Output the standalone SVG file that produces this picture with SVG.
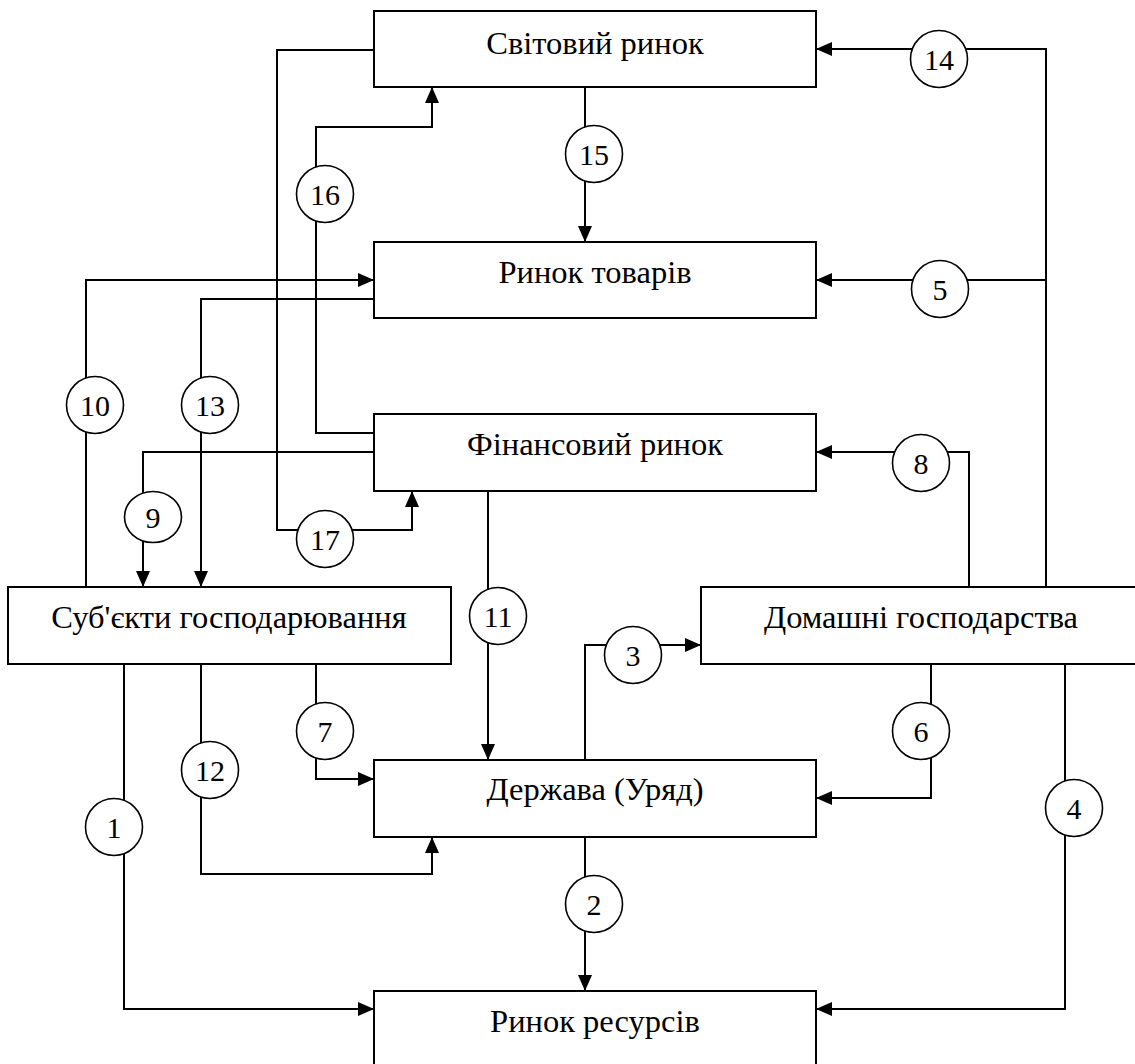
<svg xmlns="http://www.w3.org/2000/svg" width="1135" height="1064" viewBox="0 0 1135 1064">
<style>
.box{fill:#fff;stroke:#000;stroke-width:2}
.lbl{font-family:'Liberation Serif','Times New Roman',serif;font-size:32.5px;fill:#000;text-anchor:middle}
.ln{fill:none;stroke:#000;stroke-width:2}
.arr{marker-end:url(#ah)}
.c{fill:#fff;stroke:#000;stroke-width:1.6}
.num{font-family:'Liberation Serif','Times New Roman',serif;font-size:30px;fill:#000;text-anchor:middle}
</style>
<defs>
<marker id="ah" markerUnits="userSpaceOnUse" markerWidth="16" markerHeight="16" refX="16" refY="8" orient="auto">
<path d="M0,1 L16,8 L0,15 z" fill="#000"/>
</marker>
</defs>
<rect width="1135" height="1064" fill="#fff"/>
<g id="connectors">
<path class="ln arr" d="M124,664 V1009 H374"/>
<path class="ln arr" d="M585,837 V991"/>
<path class="ln arr" d="M585,760 V645 H701"/>
<path class="ln arr" d="M1065,664 V1009 H816"/>
<path class="ln arr" d="M1046,280 H816"/>
<path class="ln arr" d="M1046,587 V49 H816"/>
<path class="ln arr" d="M931,664 V798 H816"/>
<path class="ln arr" d="M316,664 V779 H374"/>
<path class="ln arr" d="M969,587 V452 H816"/>
<path class="ln arr" d="M374,452 H143 V587"/>
<path class="ln arr" d="M86,587 V280 H374"/>
<path class="ln arr" d="M488,491 V760"/>
<path class="ln arr" d="M201,664 V874 H432 V837"/>
<path class="ln arr" d="M374,299 H201 V587"/>
<path class="ln arr" d="M585,87 V242"/>
<path class="ln arr" d="M374,433 H316 V127 H432 V87"/>
<path class="ln arr" d="M374,50 H277 V530 H412 V491"/>
<g id="lbl1"><circle class="c" cx="114" cy="827" r="28.5"/><text class="num" x="114" y="838">1</text></g>
<g id="lbl2"><circle class="c" cx="594" cy="904" r="28.5"/><text class="num" x="594" y="915">2</text></g>
<g id="lbl3"><circle class="c" cx="633" cy="655" r="28.5"/><text class="num" x="633" y="666">3</text></g>
<g id="lbl4"><circle class="c" cx="1074" cy="808" r="28.5"/><text class="num" x="1074" y="819">4</text></g>
<g id="lbl5"><circle class="c" cx="940" cy="289" r="28.5"/><text class="num" x="940" y="300">5</text></g>
<g id="lbl6"><circle class="c" cx="921" cy="731" r="28.5"/><text class="num" x="921" y="742">6</text></g>
<g id="lbl7"><circle class="c" cx="325" cy="731" r="28.5"/><text class="num" x="325" y="742">7</text></g>
<g id="lbl8"><circle class="c" cx="921" cy="463" r="28.5"/><text class="num" x="921" y="474">8</text></g>
<g id="lbl9"><ellipse class="c" cx="153" cy="517" rx="28.5" ry="25.5"/><text class="num" x="153" y="528">9</text></g>
<g id="lbl10"><circle class="c" cx="95" cy="405" r="28.5"/><text class="num" x="95" y="416">10</text></g>
<g id="lbl11"><circle class="c" cx="498" cy="616" r="28.5"/><text class="num" x="498" y="627">11</text></g>
<g id="lbl12"><circle class="c" cx="210" cy="770" r="28.5"/><text class="num" x="210" y="781">12</text></g>
<g id="lbl13"><circle class="c" cx="210" cy="405" r="28.5"/><text class="num" x="210" y="416">13</text></g>
<g id="lbl14"><circle class="c" cx="939" cy="59" r="28.5"/><text class="num" x="939" y="70">14</text></g>
<g id="lbl15"><circle class="c" cx="594" cy="154" r="28.5"/><text class="num" x="594" y="165">15</text></g>
<g id="lbl16"><circle class="c" cx="325" cy="194" r="28.5"/><text class="num" x="325" y="205">16</text></g>
<g id="lbl17"><circle class="c" cx="325" cy="539" r="28.5"/><text class="num" x="325" y="550">17</text></g>
</g>
<g id="svitovyi"><rect class="box" x="374" y="11" width="442" height="76"/><text class="lbl" x="595" y="54">Світовий ринок</text></g>
<g id="tovary"><rect class="box" x="374" y="242" width="442" height="76"/><text class="lbl" x="595" y="283">Ринок товарів</text></g>
<g id="finansovyi"><rect class="box" x="374" y="414" width="442" height="77"/><text class="lbl" x="595" y="455">Фінансовий ринок</text></g>
<g id="subiekty"><rect class="box" x="8" y="587" width="443" height="77"/><text class="lbl" x="229" y="628">Суб'єкти господарювання</text></g>
<g id="domashni"><rect class="box" x="701" y="587" width="445" height="77"/><text class="lbl" x="921" y="628">Домашні господарства</text></g>
<g id="derzhava"><rect class="box" x="374" y="760" width="442" height="77"/><text class="lbl" x="595" y="800">Держава (Уряд)</text></g>
<g id="resursy"><rect class="box" x="374" y="991" width="442" height="80"/><text class="lbl" x="595" y="1032">Ринок ресурсів</text></g>
</svg>
